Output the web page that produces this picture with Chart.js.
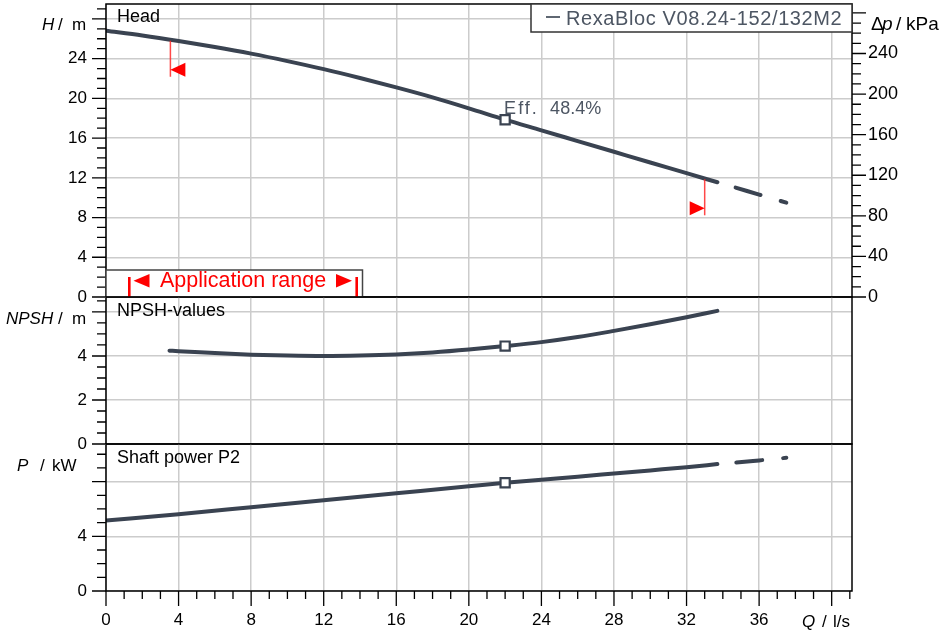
<!DOCTYPE html>
<html>
<head>
<meta charset="utf-8">
<script src="https://cdn.jsdelivr.net/npm/chart.js@4.4.0/dist/chart.umd.min.js"></script>
<style>
body{margin:0;background:#fff;}
#wrap{position:relative;width:944px;height:634px;}
canvas{position:absolute;left:0;top:0;}
</style>
</head>
<body>
<div id="wrap">
<canvas id="headChart" width="944" height="634"></canvas>
<canvas id="npshChart" width="944" height="634"></canvas>
<canvas id="powerChart" width="944" height="634"></canvas>
</div>
<script>

// Data

const pumpName = "RexaBloc V08.24-152/132M2";

const qHead = [0,2,4,6,8,10,12,14,16,18,20,22,24,26,28,30,32,33.7];
const head = [26.8,26.33,25.78,25.17,24.5,23.75,22.94,22.05,21.1,20.1,19.0,17.85,16.78,15.7,14.62,13.54,12.47,11.55];
const qHeadExt = [33.7,34,36,37.5];
const headExt = [11.55,11.39,10.31,9.5];

const qNpsh = [3.5,4,6,8,10,12,14,16,18,20,22,24,26,28,30,32,33.7];
const npsh = [4.24,4.22,4.13,4.06,4.02,4.0,4.02,4.07,4.16,4.29,4.45,4.63,4.86,5.14,5.44,5.76,6.05];

const qPower = [0,4,8,12,16,20,22,24,26,28,30,32,33.7];
const power = [5.15,5.62,6.13,6.64,7.15,7.66,7.92,8.14,8.36,8.59,8.82,9.05,9.28];
const qPowerExt = [33.7,34,36,37.5];
const powerExt = [9.28,9.31,9.55,9.74];

const bepQ = 22;
const effText = ["Eff.","48.4%"];
const limitQ = [3.55,33.0];
const limitH = [25.8,11.85];

const qTicks = [0,4,8,12,16,20,24,28,32,36,40];
const qLabels = [0,4,8,12,16,20,24,28,32,36];
const hTicks = [0,4,8,12,16,20,24,28];
const hLabels = [0,4,8,12,16,20,24];
const kpaTicks = [0,40,80,120,160,200,240];
const npshTicks = [0,2,4,6];
const npshLabels = [0,2,4];
const powerTicks = [0,4,8];
const powerLabels = [0,4];

const qMax = 41.12;
const hMax = 29.5;
const kpaPerM = 9.79;
const npshMax = 6.68;
const powerMax = 10.75;

// Style

const fam = "'Liberation Sans', Arial, sans-serif";
const lineColor = "#3a4351";
const gridColor = "#cccccc";
const greyText = "#4d5663";

Chart.defaults.font.family = fam;

function pts(xs,ys){
return xs.map((x,i)=>({x:x,y:ys[i]}));
}

function bepRadius(ctx){
return (ctx.raw && ctx.raw.x===bepQ) ? 6.5 : 0;
}

function curve(data){
return {
data:data,
borderColor:lineColor,
borderWidth:4,
borderCapStyle:"round",
cubicInterpolationMode:"monotone",
pointStyle:"rect",
pointRadius:bepRadius,
pointBackgroundColor:"#fff",
pointBorderColor:lineColor,
pointBorderWidth:2.2,
fill:false
};
}

function dashed(data){
return {
data:data,
borderColor:lineColor,
borderWidth:4,
borderCapStyle:"round",
borderDash:[26,21],
borderDashOffset:28,
cubicInterpolationMode:"monotone",
pointRadius:0,
fill:false
};
}

function setTicks(list){
return function(scale){
scale.ticks = list.map(v=>({value:v}));
};
}

function labelOnly(list){
return function(v){
return list.includes(v) ? String(v) : "";
};
}

function xScale(bottom){
return {
type:"linear",
min:0,
max:qMax,
afterBuildTicks:setTicks(qTicks),
ticks:{
display:bottom,
callback:labelOnly(qLabels),
color:"#000",
font:{size:17},
padding:4,
maxRotation:0,
autoSkip:false
},
grid:{color:gridColor,lineWidth:1.5,drawTicks:bottom,tickLength:15,tickColor:"transparent"},
border:{display:false},
afterFit:function(s){
s.height = bottom ? 43 : 0;
s.paddingLeft = 0;
s.paddingRight = 0;
}
};
}

function yScale(max,ticks,labels){
return {
type:"linear",
position:"left",
min:0,
max:max,
afterBuildTicks:setTicks(ticks),
ticks:{callback:labelOnly(labels),color:"#000",font:{size:17},padding:5,autoSkip:false},
grid:{color:gridColor,lineWidth:1.5,tickLength:14,tickColor:"transparent"},
border:{display:false},
afterFit:function(s){
s.width = 106;
s.paddingTop = 0;
s.paddingBottom = 0;
}
};
}

// Drawing helpers

function drawTicks(ctx,scale,side,step,major,longLen,shortLen){
const n = Math.floor(scale.max/step+1e-6);
ctx.save();
ctx.strokeStyle="#000";
ctx.lineWidth=1.3;
ctx.beginPath();
for(let i=0;i<=n;i++){
const v = i*step;
const r = v/major;
const len = Math.abs(r-Math.round(r))<1e-6 ? longLen : shortLen;
const p = scale.getPixelForValue(v);
if(side==="left"){
ctx.moveTo(scale.right-len,p); ctx.lineTo(scale.right,p);
}
else if(side==="right"){
ctx.moveTo(scale.left,p); ctx.lineTo(scale.left+len,p);
}
else{
ctx.moveTo(p,scale.top); ctx.lineTo(p,scale.top+len);
}
}
ctx.stroke();
ctx.restore();
}

function frame(ctx,a){
ctx.save();
ctx.strokeStyle="#000";
ctx.lineWidth=1.5;
ctx.strokeRect(a.left,a.top,a.right-a.left,a.bottom-a.top);
ctx.restore();
}

function text(ctx,s,x,y,size,italic,color,align){
ctx.font=(italic?"italic ":"")+size+"px "+fam;
ctx.fillStyle=color||"#000";
ctx.textAlign=align||"left";
ctx.textBaseline="alphabetic";
ctx.fillText(s,x,y);
}

function tri(ctx,tipX,baseX,yc,half,color){
ctx.fillStyle=color;
ctx.beginPath();
ctx.moveTo(tipX,yc);
ctx.lineTo(baseX,yc-half);
ctx.lineTo(baseX,yc+half);
ctx.closePath();
ctx.fill();
}

// Head chart extras: limits, application range, legend, efficiency

const headDeco = {
id:"headDeco",
afterDraw(chart){
const ctx = chart.ctx;
const a = chart.chartArea;
const x = chart.scales.x;
const y = chart.scales.y;

drawTicks(ctx,y,"left",1,4,14,9);
drawTicks(ctx,chart.scales.yP,"right",10,40,14,9);
frame(ctx,a);

text(ctx,"Head",a.left+11,a.top+17.7,18);
text(ctx,"H",42,29.5,17,true);
text(ctx,"/",58,29.5,17);
text(ctx,"m",72,29.5,17);
text(ctx,"\u0394",871,29.5,19);
text(ctx,"p",882,29.5,19,true);
text(ctx,"/",896,29.5,19);
text(ctx,"kPa",906,29.5,19);

// operating limits
ctx.save();
for(let i=0;i<limitQ.length;i++){
const px = x.getPixelForValue(limitQ[i]);
const py = y.getPixelForValue(limitH[i]);
ctx.strokeStyle="rgba(255,40,40,0.85)";
ctx.lineWidth=1.5;
ctx.beginPath();
ctx.moveTo(px,py);
ctx.lineTo(px,py+36);
ctx.stroke();
if(i===0){
tri(ctx,px,px+15,py+29,7,"#ff0000");
}
else{
tri(ctx,px,px-15,py+29,7,"#ff0000");
}
}
ctx.restore();

// application range box
ctx.save();
const bx = a.left, by = a.bottom-27, bw = 256.5;
ctx.fillStyle="#fff";
ctx.fillRect(bx,by,bw,a.bottom-by);
ctx.strokeStyle="#444";
ctx.lineWidth=1.5;
ctx.strokeRect(bx,by,bw,a.bottom-by);
ctx.strokeStyle="#ff0000";
ctx.lineWidth=2.6;
ctx.beginPath();
ctx.moveTo(bx+23.3,a.bottom-20); ctx.lineTo(bx+23.3,a.bottom);
ctx.moveTo(bx+250.7,a.bottom-20); ctx.lineTo(bx+250.7,a.bottom);
ctx.stroke();
tri(ctx,bx+27.5,bx+43.5,a.bottom-16.3,6.8,"#ff0000");
tri(ctx,bx+246,bx+230,a.bottom-16.3,6.8,"#ff0000");
text(ctx,"Application range",bx+54,a.bottom-9.7,21.5,false,"#ff0000");
ctx.restore();

// legend box
ctx.save();
const lx = a.right-321;
ctx.fillStyle="#fff";
ctx.fillRect(lx,a.top,321,28);
ctx.strokeStyle="#333";
ctx.lineWidth=1.5;
ctx.strokeRect(lx,a.top,321,28);
ctx.strokeStyle=greyText;
ctx.lineWidth=1.8;
ctx.beginPath();
ctx.moveTo(lx+15,a.top+13); ctx.lineTo(lx+29,a.top+13);
ctx.stroke();
ctx.letterSpacing="0.6px";
text(ctx,pumpName,lx+35,a.top+21,20,false,greyText);
ctx.letterSpacing="0px";
ctx.restore();

// efficiency at best point
const ex = x.getPixelForValue(bepQ);
const ey = y.getPixelForValue(head[qHead.indexOf(bepQ)]);
ctx.save();
ctx.letterSpacing="2px";
text(ctx,effText[0],ex-1,ey-6,18,false,greyText);
ctx.letterSpacing="0px";
text(ctx,effText[1],ex+45,ey-6,18,false,greyText);
ctx.restore();
}
};

const npshDeco = {
id:"npshDeco",
afterDraw(chart){
const ctx = chart.ctx;
const a = chart.chartArea;
drawTicks(ctx,chart.scales.y,"left",0.5,2,14,9);
frame(ctx,a);
text(ctx,"NPSH-values",a.left+11,a.top+19,18);
text(ctx,"NPSH",6,324.3,17,true);
text(ctx,"/",58,324.3,17);
text(ctx,"m",72,324.3,17);
}
};

const powerDeco = {
id:"powerDeco",
afterDraw(chart){
const ctx = chart.ctx;
const a = chart.chartArea;
drawTicks(ctx,chart.scales.y,"left",1,4,14,9);
drawTicks(ctx,chart.scales.x,"bottom",1,4,15,8);
frame(ctx,a);
text(ctx,"Shaft power P2",a.left+11,a.top+19.3,18);
text(ctx,"P",17,470.7,17,true);
text(ctx,"/",40,470.7,17);
text(ctx,"kW",52,470.7,17);
text(ctx,"Q",802,626.7,17,true);
text(ctx,"/",822,626.7,17);
text(ctx,"l/s",833,626.7,17);
}
};

const common = {
responsive:false,
animation:false,
events:[],
plugins:{legend:{display:false},tooltip:{enabled:false}}
};

// Head

new Chart(document.getElementById("headChart"),{
type:"line",
data:{datasets:[curve(pts(qHead,head)),dashed(pts(qHeadExt,headExt))]},
options:Object.assign({},common,{
layout:{padding:{top:4,bottom:337,left:0,right:0},autoPadding:false},
scales:{
x:xScale(false),
y:yScale(hMax,hTicks,hLabels),
yP:{
type:"linear",
position:"right",
min:0,
max:hMax*kpaPerM,
afterBuildTicks:setTicks(kpaTicks),
ticks:{color:"#000",font:{size:18},padding:2,autoSkip:false},
grid:{drawOnChartArea:false,tickLength:14,tickColor:"transparent"},
border:{display:false},
afterFit:function(s){
s.width = 92;
s.paddingTop = 0;
s.paddingBottom = 0;
}
}
}
}),
plugins:[headDeco]
});

// NPSH

new Chart(document.getElementById("npshChart"),{
type:"line",
data:{datasets:[curve(pts(qNpsh,npsh))]},
options:Object.assign({},common,{
layout:{padding:{top:297,bottom:190,left:0,right:92},autoPadding:false},
scales:{
x:xScale(false),
y:yScale(npshMax,npshTicks,npshLabels)
}
}),
plugins:[npshDeco]
});

// Shaft power

new Chart(document.getElementById("powerChart"),{
type:"line",
data:{datasets:[curve(pts(qPower,power)),dashed(pts(qPowerExt,powerExt))]},
options:Object.assign({},common,{
layout:{padding:{top:444,bottom:0,left:0,right:92},autoPadding:false},
scales:{
x:xScale(true),
y:yScale(powerMax,powerTicks,powerLabels)
}
}),
plugins:[powerDeco]
});

</script>
</body>
</html>
